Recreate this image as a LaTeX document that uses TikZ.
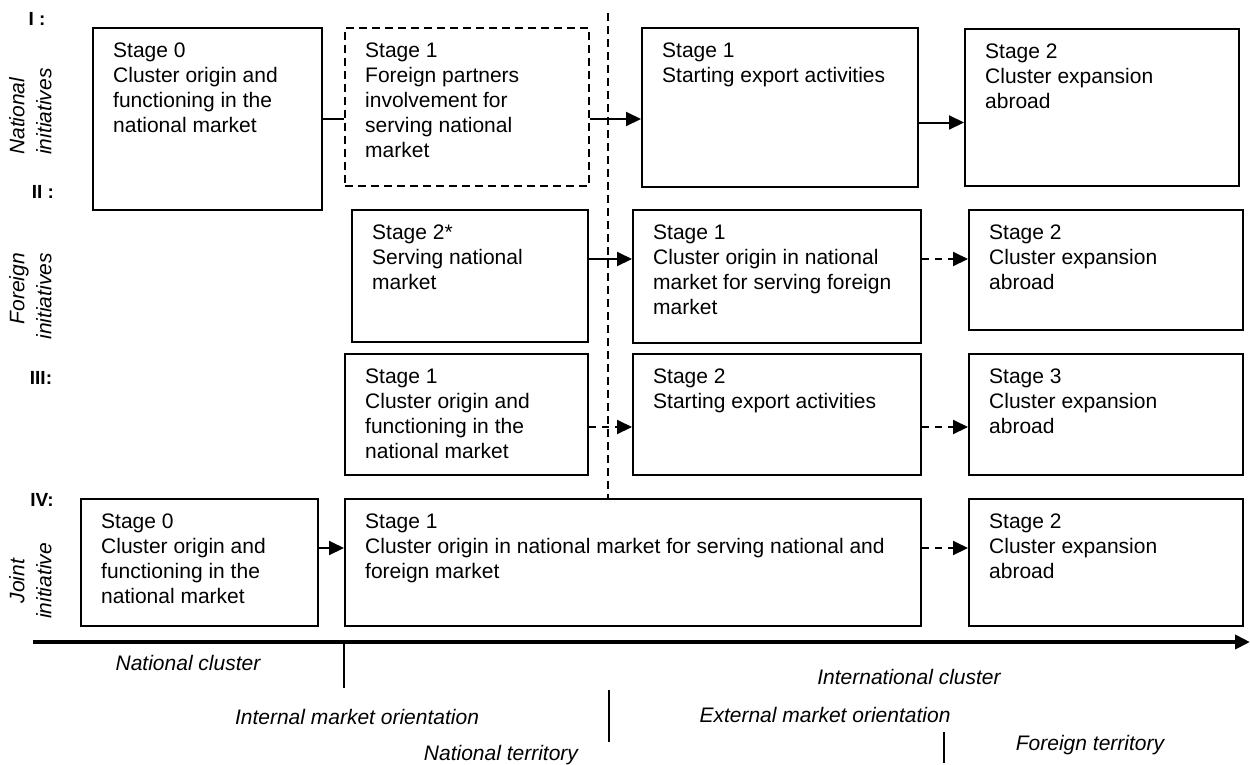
\documentclass[tikz,border=0pt]{standalone}
\usepackage{fontspec}
\setmainfont{Liberation Sans}
\usetikzlibrary{arrows.meta}
\tikzset{
  box/.style={draw, line width=2pt, inner sep=0pt},
  dbox/.style={line width=1.8pt, dash pattern=on 8pt off 5pt},
  txt/.style={font=\fontsize{21}{25}\selectfont, inner sep=0pt, align=left},
  rowlab/.style={font=\fontsize{19}{22}\selectfont\bfseries, inner sep=0pt},
  sidelab/.style={font=\fontsize{21}{27}\selectfont\itshape, inner sep=0pt, rotate=90},
  axlab/.style={font=\fontsize{21}{25}\selectfont\itshape, inner sep=0pt},
  arr/.style={line width=2pt, -{Triangle[length=15pt,width=14pt]}},
  darr/.style={arr, dash pattern=on 7pt off 6pt},
  link/.style={line width=2pt},
  vdash/.style={line width=1.5pt, dash pattern=on 8pt off 5pt},
  axisline/.style={line width=4pt, -{Triangle[length=15pt,width=14pt]}},
  tickline/.style={line width=1.5pt},
}
% name, x, y, width, height, extra options, text
\newcommand{\stagebox}[7]{%
  \node[box,#6,minimum width=#4pt,minimum height=#5pt,anchor=north west] (#1) at (#2,#3) {};
  \node[txt,anchor=north west] (#1t) at ([xshift=21pt,yshift=-12.5pt]#1.north west) {\strut #7};
}
\begin{document}
\begin{tikzpicture}[x=1pt,y=-1pt]
\useasboundingbox (0,0) rectangle (1250,764);

\coordinate (vtop) at (608,13);

% row labels
\node[rowlab] (lI) at (37,19) {I :};
\node[rowlab] (lII) at (43,192) {II :};
\node[rowlab] (lIII) at (41,378) {III:};
\node[rowlab] (lIV) at (42,500) {IV:};

\node[sidelab, align=left, anchor=north west] (sNat) at (9,155) {National\\initiatives};
\node[sidelab, align=right, anchor=north east] (sFor) at (9,253) {Foreign\\initiatives};
\node[sidelab, align=center, anchor=north] (sJoi) at (9,581) {Joint\\initiative};

% row I
\stagebox{I0}{92}{27}{229}{182}{}{Stage 0\\Cluster origin and\\functioning in the\\national market}
\stagebox{I1d}{344}{27}{244}{158}{dbox}{Stage 1\\Foreign partners\\involvement for\\serving national\\market}
\stagebox{I1}{641}{27}{276}{159}{}{Stage 1\\Starting export activities}
\stagebox{I2}{964}{28}{274}{157}{}{Stage 2\\Cluster expansion\\abroad}
% row II
\stagebox{II0}{351}{209}{236}{132}{}{Stage 2*\\Serving national\\market}
\stagebox{II1}{632}{209}{288}{133}{}{Stage 1\\Cluster origin in national\\market for serving foreign\\market}
\stagebox{II2}{968}{209}{274}{120}{}{Stage 2\\Cluster expansion\\abroad}
% row III
\stagebox{III0}{344}{353}{243}{121}{}{Stage 1\\Cluster origin and\\functioning in the\\national market}
\stagebox{III1}{632}{353}{288}{121}{}{Stage 2\\Starting export activities}
\stagebox{III2}{968}{353}{274}{121}{}{Stage 3\\Cluster expansion\\abroad}
% row IV
\stagebox{IV0}{80}{498}{237}{127}{}{Stage 0\\Cluster origin and\\functioning in the\\national market}
\stagebox{IV1}{344}{498}{576}{127}{}{Stage 1\\Cluster origin in national market for serving national and\\foreign market}
\stagebox{IV2}{968}{498}{274}{127}{}{Stage 2\\Cluster expansion\\abroad}

\draw[vdash] (vtop) -- (vtop |- IV1.north);

% connectors
\draw[link] (I0.east) -- (I0.east -| I1d.west);
\draw[arr] (I0.east -| I1d.east) -- (I0.east -| I1.west);
\draw[arr] ([yshift=-15pt]I1.east) -- ([yshift=-15pt]I1.east -| I2.west);

\draw[arr] ([yshift=17pt]II0.east) -- ([yshift=17pt]II0.east -| II1.west);
\draw[darr] ([yshift=17pt]II0.east -| II1.east) -- ([yshift=17pt]II0.east -| II2.west);

\draw[darr] ([yshift=-12.5pt]III0.east) -- ([yshift=-12.5pt]III0.east -| III1.west);
\draw[darr] ([yshift=-12.5pt]III0.east -| III1.east) -- ([yshift=-12.5pt]III0.east -| III2.west);

\draw[arr] ([yshift=14.5pt]IV0.east) -- ([yshift=14.5pt]IV0.east -| IV1.west);
\draw[darr] ([yshift=14.5pt]IV0.east -| IV1.east) -- ([yshift=14.5pt]IV0.east -| IV2.west);

% axis
\coordinate (ax0) at (33,642);
\coordinate (ax1) at (1250,642);
\draw[axisline] (ax0) -- (ax1);

% ticks
\coordinate (t1a) at (344,643); \coordinate (t1b) at (344,688);
\coordinate (t2a) at (609,690); \coordinate (t2b) at (609,742);
\coordinate (t3a) at (944,732); \coordinate (t3b) at (944,763);
\draw[tickline] (t1a) -- (t1b);
\draw[tickline] (t2a) -- (t2b);
\draw[tickline] (t3a) -- (t3b);

% axis labels
\node[axlab] (nc) at (188,663) {National cluster};
\node[axlab] (ic) at (909,677) {International cluster};
\node[axlab] (imo) at (357,717) {Internal market orientation};
\node[axlab] (emo) at (825,715) {External market orientation};
\node[axlab] (nt) at (501,755) {National territory};
\node[axlab] (ft) at (1090,745) {Foreign territory};
\end{tikzpicture}
\end{document}
